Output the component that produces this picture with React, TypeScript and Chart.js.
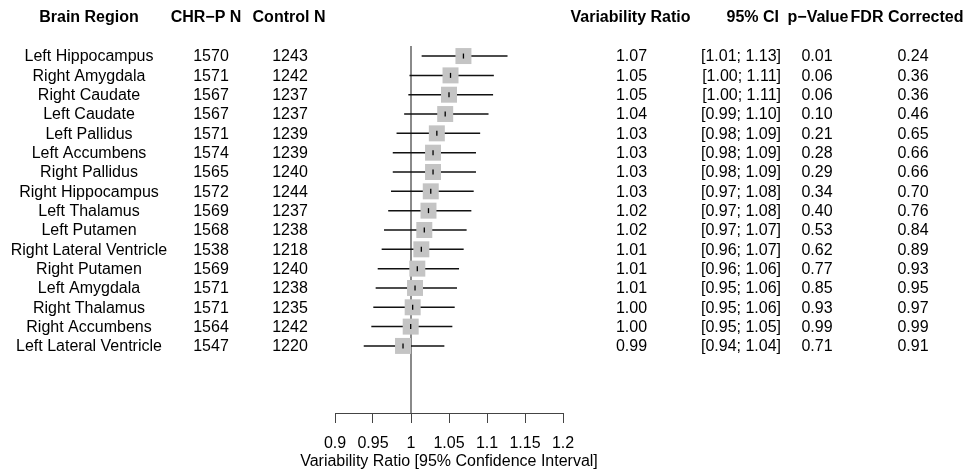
import React, { useEffect, useRef } from 'react';
import { Chart, registerables } from 'chart.js';

Chart.register(...registerables);

const FONT = "'Liberation Sans', Arial, Helvetica, sans-serif";

// ---- Data ----
const regions = [
  'Left Hippocampus', 'Right Amygdala', 'Right Caudate', 'Left Caudate', 'Left Pallidus',
  'Left Accumbens', 'Right Pallidus', 'Right Hippocampus', 'Left Thalamus', 'Left Putamen',
  'Right Lateral Ventricle', 'Right Putamen', 'Left Amygdala', 'Right Thalamus',
  'Right Accumbens', 'Left Lateral Ventricle',
];
const chrN = [1570, 1571, 1567, 1567, 1571, 1574, 1565, 1572, 1569, 1568, 1538, 1569, 1571, 1571, 1564, 1547];
const controlN = [1243, 1242, 1237, 1237, 1239, 1239, 1240, 1244, 1237, 1238, 1218, 1240, 1238, 1235, 1242, 1220];
const ratioText = ['1.07', '1.05', '1.05', '1.04', '1.03', '1.03', '1.03', '1.03', '1.02', '1.02', '1.01', '1.01', '1.01', '1.00', '1.00', '0.99'];
const ciText = ['[1.01; 1.13]', '[1.00; 1.11]', '[1.00; 1.11]', '[0.99; 1.10]', '[0.98; 1.09]', '[0.98; 1.09]', '[0.98; 1.09]', '[0.97; 1.08]', '[0.97; 1.08]', '[0.97; 1.07]', '[0.96; 1.07]', '[0.96; 1.06]', '[0.95; 1.06]', '[0.95; 1.06]', '[0.95; 1.05]', '[0.94; 1.04]'];
const pValues = ['0.01', '0.06', '0.06', '0.10', '0.21', '0.28', '0.29', '0.34', '0.40', '0.53', '0.62', '0.77', '0.85', '0.93', '0.99', '0.71'];
const fdrValues = ['0.24', '0.36', '0.36', '0.46', '0.65', '0.66', '0.66', '0.70', '0.76', '0.84', '0.89', '0.93', '0.95', '0.97', '0.99', '0.91'];

// plotted estimates / CI bounds
const estimates = [1.069, 1.052, 1.050, 1.045, 1.034, 1.029, 1.029, 1.026, 1.023, 1.0175, 1.0136, 1.0083, 1.0053, 1.0022, 0.9996, 0.9895];
const lowers = [1.014, 0.998, 0.9965, 0.991, 0.981, 0.976, 0.976, 0.9737, 0.970, 0.9645, 0.9614, 0.9562, 0.9535, 0.9504, 0.9478, 0.9378];
const uppers = [1.127, 1.109, 1.108, 1.102, 1.091, 1.0855, 1.0855, 1.0825, 1.0794, 1.0732, 1.0693, 1.0632, 1.0605, 1.0575, 1.0544, 1.0439];

const xTickValues = [0.9, 0.95, 1, 1.05, 1.1, 1.15, 1.2];
const xTickLabels = ['0.9', '0.95', '1', '1.05', '1.1', '1.15', '1.2'];
const referenceValue = 1;
const xAxisTitle = 'Variability Ratio [95% Confidence Interval]';

const headers = {
  region: 'Brain Region',
  chr: 'CHR\u2212P N',
  control: 'Control N',
  ratio: 'Variability Ratio',
  ci: '95% CI',
  p: 'p\u2212Value',
  fdr: 'FDR Corrected',
};

const Y_MIN = -0.52;
const Y_MAX = 18.47;

const tablePlugin = {
  id: 'forestTable',
  afterDraw(chart: any) {
    const ctx = chart.ctx as CanvasRenderingContext2D;
    const ys = chart.scales.y;
    const area = chart.chartArea;
    ctx.save();
    ctx.fillStyle = '#000';
    ctx.textBaseline = 'middle';
    const headerY = 18;
    ctx.font = `bold 16px ${FONT}`;
    ctx.textAlign = 'center';
    ctx.fillText(headers.region, 89, headerY);
    ctx.fillText(headers.chr, 206, headerY);
    ctx.fillText(headers.control, 289, headerY);
    ctx.fillText(headers.ratio, 630.5, headerY);
    ctx.fillText(headers.p, 818, headerY);
    ctx.fillText(headers.fdr, 907, headerY);
    ctx.textAlign = 'right';
    ctx.fillText(headers.ci, 779, headerY);

    ctx.font = `16px ${FONT}`;
    regions.forEach((r, i) => {
      const y = ys.getPixelForValue(i) + 1;
      ctx.textAlign = 'center';
      ctx.fillText(r, 89, y);
      ctx.fillText(String(chrN[i]), 211, y);
      ctx.fillText(String(controlN[i]), 290, y);
      ctx.fillText(ratioText[i], 631.5, y);
      ctx.fillText(pValues[i], 817, y);
      ctx.fillText(fdrValues[i], 913, y);
      ctx.textAlign = 'right';
      ctx.fillText(ciText[i], 781, y);
    });

    // x-axis title, centred under the axis
    ctx.textAlign = 'center';
    ctx.fillText(xAxisTitle, (area.left + area.right) / 2, 462);
    ctx.restore();
  },
};

export default function App() {
  const ref = useRef<HTMLCanvasElement>(null);
  useEffect(() => {
    if (!ref.current) return;
    const ciDatasets = regions.map((_, i) => ({
      type: 'line' as const,
      data: [{ x: lowers[i], y: i }, { x: uppers[i], y: i }],
      borderColor: '#111',
      borderWidth: 1.5,
      pointRadius: 0,
      showLine: true,
      order: 3,
    }));
    const chart = new Chart(ref.current, {
      type: 'scatter',
      data: {
        datasets: [
          {
            data: estimates.map((e, i) => ({ x: e, y: i })),
            pointStyle: 'line',
            rotation: 90,
            pointRadius: 2.5,
            borderColor: '#000',
            borderWidth: 1.3,
            order: 1,
          } as any,
          {
            data: estimates.map((e, i) => ({ x: e, y: i })),
            pointStyle: 'rect',
            pointRadius: 11.3,
            backgroundColor: '#c4c4c4',
            borderWidth: 0,
            order: 2,
          } as any,
          ...ciDatasets,
          {
            type: 'line',
            data: [{ x: referenceValue, y: Y_MIN }, { x: referenceValue, y: Y_MAX }],
            borderColor: '#8a8a8a',
            borderWidth: 2,
            pointRadius: 0,
            showLine: true,
            order: 4,
          } as any,
        ],
      },
      options: {
        animation: false,
        responsive: false,
        devicePixelRatio: 1,
        events: [],
        layout: { padding: { left: 335, right: 408, top: 46, bottom: 0 } },
        plugins: { legend: { display: false }, tooltip: { enabled: false } },
        scales: {
          x: {
            type: 'linear',
            position: 'bottom',
            min: 0.9,
            max: 1.2,
            afterBuildTicks: (s: any) => {
              s.ticks = xTickValues.map((v) => ({ value: v }));
            },
            afterFit: (s: any) => {
              s.height = 60;
            },
            ticks: {
              color: '#000',
              font: { family: FONT, size: 16 },
              padding: 11,
              maxRotation: 0,
              autoSkip: false,
              callback: (_v: any, idx: number) => xTickLabels[idx],
            },
            grid: { drawOnChartArea: false, drawTicks: true, tickLength: 10, color: '#444', lineWidth: 1 },
            border: { display: true, color: '#444', width: 1 },
            title: { display: false },
          },
          y: { type: 'linear', display: false, min: Y_MIN, max: Y_MAX, reverse: true },
        },
      },
      plugins: [tablePlugin],
    } as any);
    return () => chart.destroy();
  }, []);
  return (
    <div style={{ position: 'absolute', left: 0, top: 0, width: 971, height: 473, background: '#fff' }}>
      <canvas ref={ref} width={971} height={473} style={{ display: 'block' }} />
    </div>
  );
}
